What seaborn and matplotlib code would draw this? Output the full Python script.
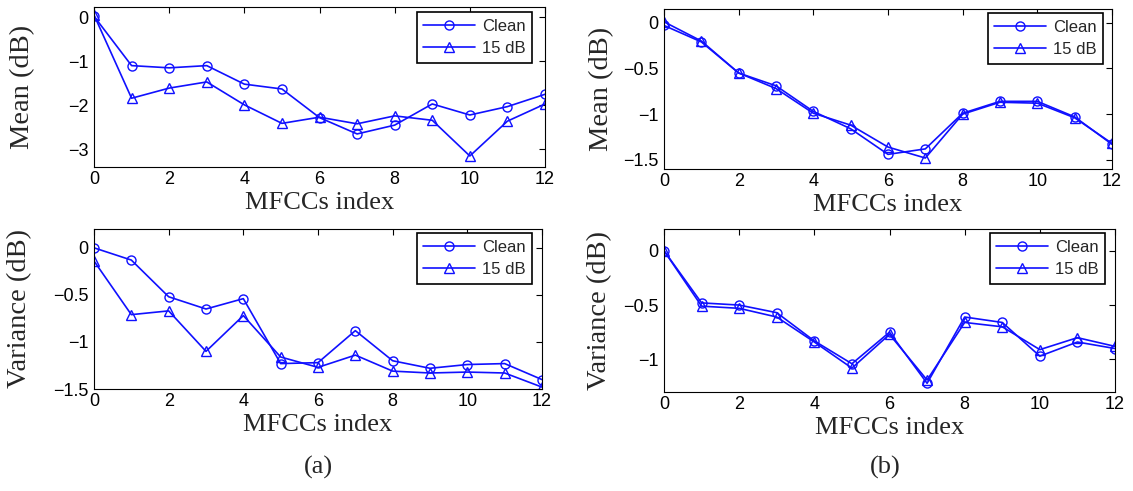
import matplotlib
matplotlib.use("Agg")
import matplotlib.pyplot as plt
import seaborn as sns
import numpy as np
import pandas as pd
from matplotlib.ticker import FuncFormatter

# ---------------- data ----------------
mfcc_index = list(range(13))

a_mean_clean = [0.02, -1.10, -1.15, -1.10, -1.52, -1.63, -2.28, -2.65, -2.45, -1.97, -2.22, -2.03, -1.75]
a_mean_15db = [0.05, -1.84, -1.61, -1.47, -1.99, -2.41, -2.27, -2.42, -2.24, -2.34, -3.15, -2.36, -1.97]

a_var_clean = [0.00, -0.13, -0.52, -0.65, -0.54, -1.23, -1.22, -0.88, -1.20, -1.28, -1.24, -1.23, -1.40]
a_var_15db = [-0.14, -0.71, -0.67, -1.10, -0.72, -1.16, -1.27, -1.14, -1.31, -1.33, -1.32, -1.33, -1.48]

b_mean_clean = [-0.03, -0.21, -0.55, -0.69, -0.97, -1.16, -1.44, -1.38, -0.99, -0.86, -0.86, -1.03, -1.33]
b_mean_15db = [0.01, -0.20, -0.55, -0.72, -0.99, -1.12, -1.36, -1.48, -1.00, -0.87, -0.88, -1.04, -1.32]

b_var_clean = [0.00, -0.48, -0.50, -0.57, -0.83, -1.04, -0.75, -1.22, -0.61, -0.66, -0.97, -0.84, -0.90]
b_var_15db = [0.00, -0.51, -0.53, -0.61, -0.84, -1.08, -0.77, -1.19, -0.66, -0.70, -0.91, -0.80, -0.88]

series_labels = ["Clean", "15 dB"]
x_ticks = [0, 2, 4, 6, 8, 10, 12]
xlabel = "MFCCs index"
panel_labels = ["(a)", "(b)"]

# ---------------- style ----------------
sns.set_theme(style="white")
plt.rcParams["font.family"] = ["Liberation Sans", "DejaVu Sans"]
plt.rcParams["axes.edgecolor"] = "black"
plt.rcParams["axes.linewidth"] = 0.8

BLUE = "#1010ff"
SERIF = ["Liberation Serif", "DejaVu Serif"]

fig = plt.figure(figsize=(11.33, 4.91), dpi=100)

W, H = 1133.0, 491.0
def box(l, t, r, b):
    return [l / W, 1 - b / H, (r - l) / W, (b - t) / H]

# rect, clean, noisy, ylabel, ylim, yticks, ylabel x-centre (px), legend gaps (right, top px)
panels = [
    (box(94, 7, 545, 167), a_mean_clean, a_mean_15db, "Mean (dB)", (-3.4, 0.23), [-3, -2, -1, 0], 23, (13, 5)),
    (box(94, 229, 542, 389), a_var_clean, a_var_15db, "Variance (dB)", (-1.5, 0.2), [-1.5, -1, -0.5, 0], 20, (10, 4)),
    (box(664, 9, 1112, 169), b_mean_clean, b_mean_15db, "Mean (dB)", (-1.6, 0.15), [-1.5, -1, -0.5, 0], 602, (9, 4)),
    (box(664, 229, 1115, 392), b_var_clean, b_var_15db, "Variance (dB)", (-1.3, 0.2), [-1, -0.5, 0], 600, (10, 4)),
]

fmt = FuncFormatter(lambda v, p: ("%g" % v).replace("-", "\u2212"))

for rect, clean, noisy, ylab, ylim, yt, ylx, (gr, gt) in panels:
    ax = fig.add_axes(rect)
    df = pd.DataFrame({
        "idx": mfcc_index * 2,
        "val": list(clean) + list(noisy),
        "series": [series_labels[0]] * 13 + [series_labels[1]] * 13,
    })
    for lab, mk in zip(series_labels, ["o", "^"]):
        sub = df[df["series"] == lab]
        sns.lineplot(data=sub, x="idx", y="val", ax=ax, color=BLUE, marker=mk,
                     markersize=6.5, markerfacecolor="none", markeredgecolor=BLUE,
                     markeredgewidth=1.0, linewidth=1.2, label=lab, legend=False)
    ax.set_xlim(0, 12)
    ax.set_ylim(*ylim)
    ax.set_xticks(x_ticks)
    ax.set_yticks(yt)
    ax.yaxis.set_major_formatter(fmt)
    ax.tick_params(direction="in", top=True, right=True, length=4, width=0.8,
                   labelsize=13, colors="black")
    ax.tick_params(axis="x", pad=3)
    ax.tick_params(axis="y", pad=4)
    for sp in ax.spines.values():
        sp.set_visible(True)
        sp.set_color("black")
    ax.set_xlabel(xlabel, fontsize=19, family=SERIF, labelpad=3)
    ax.set_ylabel(ylab, fontsize=20.5, family=SERIF, va="center")
    axw = rect[2] * W
    axh = rect[3] * H
    ax.yaxis.set_label_coords((ylx - rect[0] * W) / axw, 0.5)
    leg = ax.legend(loc="upper right", bbox_to_anchor=(1 - gr / axw, 1 - gt / axh),
                    borderaxespad=0, fontsize=12, frameon=True, fancybox=False,
                    edgecolor="black", framealpha=1, handlelength=3.1,
                    labelspacing=0.45, handletextpad=0.4, borderpad=0.4)
    leg.get_frame().set_linewidth(1.2)

fig.text(318 / W, 1 - 467 / H, panel_labels[0], ha="center", va="center",
         fontsize=19, family=SERIF)
fig.text(885 / W, 1 - 467 / H, panel_labels[1], ha="center", va="center",
         fontsize=19, family=SERIF)

fig.savefig("out.png", dpi=100)
